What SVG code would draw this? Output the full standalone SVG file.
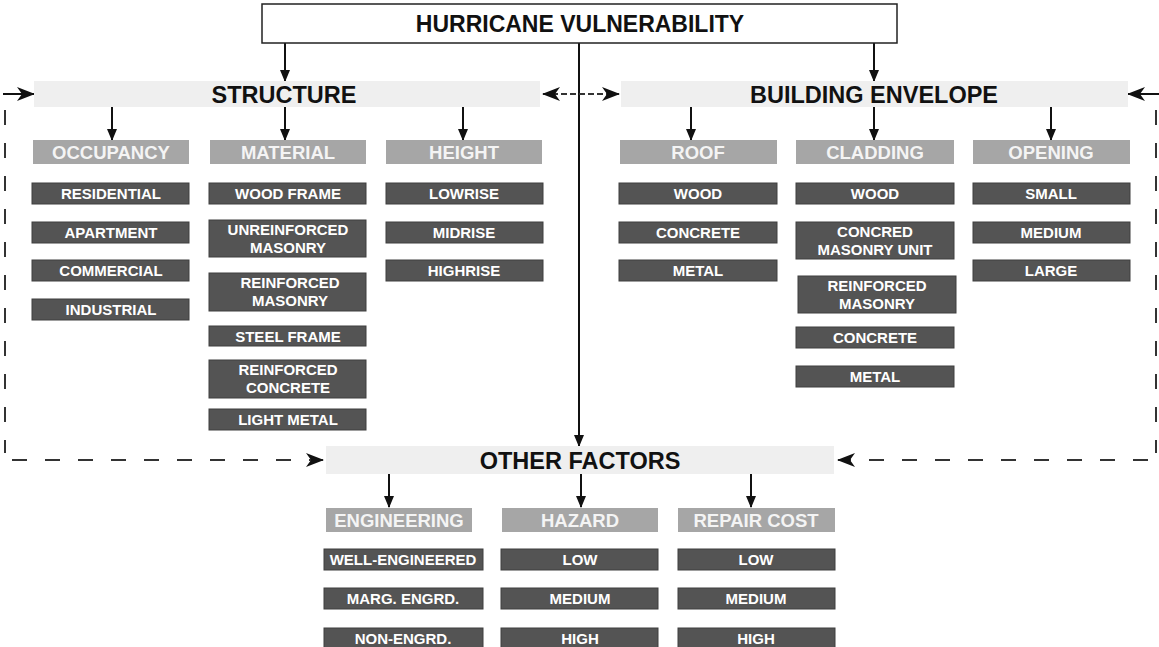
<svg xmlns="http://www.w3.org/2000/svg" width="1159" height="647" viewBox="0 0 1159 647">
<style>
text{font-family:"Liberation Sans",Arial,sans-serif;text-anchor:middle}
.title{font-size:23px;font-weight:bold;fill:#111}
.bar{fill:#efefef}
.bart{font-size:23.5px;font-weight:bold;fill:#111}
.hdr{fill:#a6a6a6}
.hdrt{font-size:18.5px;font-weight:bold;fill:#f4f4f4}
.item{fill:#545454;stroke:#3e3e3e;stroke-width:1}
.itemt{font-size:15px;font-weight:bold;fill:#fff}
.arr{stroke:#111;stroke-width:2;fill:none}
.dash{stroke:#333;stroke-width:2;fill:none;stroke-dasharray:15 18}
.dash2{stroke:#333;stroke-width:2;fill:none;stroke-dasharray:6 3}
</style>
<defs>
<marker id="ah" markerUnits="userSpaceOnUse" markerWidth="12" markerHeight="10" refX="11" refY="5" orient="auto" viewBox="0 0 12 10">
<path d="M0,0 L12,5 L0,10 Z" fill="#111"/>
</marker>
<marker id="st" markerUnits="userSpaceOnUse" markerWidth="18" markerHeight="14" refX="17" refY="7" orient="auto-start-reverse" viewBox="0 0 18 14">
<path d="M0,0 L18,7 L0,14 L5,7 Z" fill="#111"/>
</marker>
</defs>

<g id="connectors">
<line class="arr" x1="285" y1="43" x2="285" y2="81" marker-end="url(#ah)"/>
<line class="arr" x1="874" y1="43" x2="874" y2="81" marker-end="url(#ah)"/>
<line class="arr" x1="579" y1="43" x2="579" y2="446" marker-end="url(#ah)"/>
<line class="dash2" x1="543" y1="94" x2="619" y2="94" marker-start="url(#st)" marker-end="url(#st)"/>
<line class="arr" x1="112" y1="107" x2="112" y2="140" marker-end="url(#ah)"/>
<line class="arr" x1="285" y1="107" x2="285" y2="140" marker-end="url(#ah)"/>
<line class="arr" x1="463" y1="107" x2="463" y2="140" marker-end="url(#ah)"/>
<line class="arr" x1="691" y1="107" x2="691" y2="140" marker-end="url(#ah)"/>
<line class="arr" x1="874" y1="107" x2="874" y2="140" marker-end="url(#ah)"/>
<line class="arr" x1="1051" y1="107" x2="1051" y2="140" marker-end="url(#ah)"/>
<line class="arr" x1="389" y1="474" x2="389" y2="507" marker-end="url(#ah)"/>
<line class="arr" x1="581" y1="474" x2="581" y2="507" marker-end="url(#ah)"/>
<line class="arr" x1="751" y1="474" x2="751" y2="507" marker-end="url(#ah)"/>
<line class="arr" x1="3" y1="94" x2="34" y2="94" stroke-width="1.5" marker-end="url(#st)"/>
<line class="arr" x1="1159" y1="94" x2="1128" y2="94" stroke-width="1.5" marker-end="url(#st)"/>
<path class="dash" d="M5,110 V453"/>
<path class="dash" d="M12,460 H323" marker-end="url(#st)"/>
<path class="dash" d="M1156,110 V453"/>
<path class="dash" d="M1148,460 H838" marker-end="url(#st)"/>
</g>

<g id="n-title">
<rect x="262" y="4" width="635" height="39" fill="#fff" stroke="#222" stroke-width="1.5"/>
<text class="title" x="580" y="31.5">HURRICANE VULNERABILITY</text>
</g>

<g id="n-structure">
<rect class="bar" x="34" y="81" width="506" height="26"/>
<text class="bart" x="284" y="102.5">STRUCTURE</text>
</g>
<g id="n-envelope">
<rect class="bar" x="621" y="81" width="507" height="26"/>
<text class="bart" x="874" y="102.5">BUILDING ENVELOPE</text>
</g>
<g id="n-other">
<rect class="bar" x="326" y="446" width="508" height="28"/>
<text class="bart" x="580" y="468.5">OTHER FACTORS</text>
</g>

<g id="n-occupancy"><rect class="hdr" x="33" y="140" width="156" height="24"/><text class="hdrt" x="111" y="158.5">OCCUPANCY</text></g>
<g id="n-material"><rect class="hdr" x="210" y="140" width="156" height="24"/><text class="hdrt" x="288" y="158.5">MATERIAL</text></g>
<g id="n-height"><rect class="hdr" x="386" y="140" width="156" height="24"/><text class="hdrt" x="464" y="158.5">HEIGHT</text></g>
<g id="n-roof"><rect class="hdr" x="620" y="140" width="157" height="24"/><text class="hdrt" x="698" y="158.5">ROOF</text></g>
<g id="n-cladding"><rect class="hdr" x="796" y="140" width="158" height="24"/><text class="hdrt" x="875" y="158.5">CLADDING</text></g>
<g id="n-opening"><rect class="hdr" x="973" y="140" width="157" height="24"/><text class="hdrt" x="1051" y="158.5">OPENING</text></g>
<g id="n-engineering"><rect class="hdr" x="326" y="508" width="146" height="24"/><text class="hdrt" x="399" y="526.5">ENGINEERING</text></g>
<g id="n-hazard"><rect class="hdr" x="502" y="508" width="156" height="24"/><text class="hdrt" x="580" y="526.5">HAZARD</text></g>
<g id="n-repaircost"><rect class="hdr" x="678" y="508" width="157" height="24"/><text class="hdrt" x="756" y="526.5">REPAIR COST</text></g>

<g id="n-residential"><rect class="item" x="32" y="183" width="157" height="21"/><text class="itemt" x="111" y="199">RESIDENTIAL</text></g>
<g id="n-apartment"><rect class="item" x="32" y="222" width="157" height="21"/><text class="itemt" x="111" y="238">APARTMENT</text></g>
<g id="n-commercial"><rect class="item" x="32" y="260" width="157" height="21"/><text class="itemt" x="111" y="276">COMMERCIAL</text></g>
<g id="n-industrial"><rect class="item" x="32" y="299" width="157" height="21"/><text class="itemt" x="111" y="315">INDUSTRIAL</text></g>

<g id="n-woodframe"><rect class="item" x="209" y="183" width="157" height="21"/><text class="itemt" x="288" y="199">WOOD FRAME</text></g>
<g id="n-urm"><rect class="item" x="209" y="220" width="157" height="37"/><text class="itemt" x="288" y="235">UNREINFORCED</text><text class="itemt" x="288" y="253">MASONRY</text></g>
<g id="n-rm"><rect class="item" x="209" y="273" width="157" height="38"/><text class="itemt" x="290" y="288">REINFORCED</text><text class="itemt" x="290" y="306">MASONRY</text></g>
<g id="n-steel"><rect class="item" x="209" y="326" width="157" height="20"/><text class="itemt" x="288" y="341.5">STEEL FRAME</text></g>
<g id="n-rc"><rect class="item" x="209" y="360" width="157" height="38"/><text class="itemt" x="288" y="375">REINFORCED</text><text class="itemt" x="288" y="393">CONCRETE</text></g>
<g id="n-lightmetal"><rect class="item" x="209" y="409" width="157" height="21"/><text class="itemt" x="288" y="425">LIGHT METAL</text></g>

<g id="n-lowrise"><rect class="item" x="386" y="183" width="157" height="21"/><text class="itemt" x="464" y="199">LOWRISE</text></g>
<g id="n-midrise"><rect class="item" x="386" y="222" width="157" height="21"/><text class="itemt" x="464" y="238">MIDRISE</text></g>
<g id="n-highrise"><rect class="item" x="386" y="260" width="157" height="21"/><text class="itemt" x="464" y="276">HIGHRISE</text></g>

<g id="n-roof-wood"><rect class="item" x="619" y="183" width="158" height="21"/><text class="itemt" x="698" y="199">WOOD</text></g>
<g id="n-roof-concrete"><rect class="item" x="619" y="222" width="158" height="21"/><text class="itemt" x="698" y="238">CONCRETE</text></g>
<g id="n-roof-metal"><rect class="item" x="619" y="260" width="158" height="21"/><text class="itemt" x="698" y="276">METAL</text></g>

<g id="n-clad-wood"><rect class="item" x="796" y="183" width="158" height="21"/><text class="itemt" x="875" y="199">WOOD</text></g>
<g id="n-clad-cmu"><rect class="item" x="796" y="222" width="158" height="37"/><text class="itemt" x="875" y="237">CONCRED</text><text class="itemt" x="875" y="255">MASONRY UNIT</text></g>
<g id="n-clad-rm"><rect class="item" x="798" y="276" width="158" height="37"/><text class="itemt" x="877" y="291">REINFORCED</text><text class="itemt" x="877" y="309">MASONRY</text></g>
<g id="n-clad-concrete"><rect class="item" x="796" y="327" width="158" height="21"/><text class="itemt" x="875" y="343">CONCRETE</text></g>
<g id="n-clad-metal"><rect class="item" x="796" y="366" width="158" height="21"/><text class="itemt" x="875" y="382">METAL</text></g>

<g id="n-small"><rect class="item" x="973" y="183" width="157" height="21"/><text class="itemt" x="1051" y="199">SMALL</text></g>
<g id="n-medium"><rect class="item" x="973" y="222" width="157" height="21"/><text class="itemt" x="1051" y="238">MEDIUM</text></g>
<g id="n-large"><rect class="item" x="973" y="260" width="157" height="21"/><text class="itemt" x="1051" y="276">LARGE</text></g>

<g id="n-well"><rect class="item" x="324" y="549" width="159" height="21"/><text class="itemt" x="403" y="565">WELL-ENGINEERED</text></g>
<g id="n-marg"><rect class="item" x="324" y="588" width="159" height="21"/><text class="itemt" x="403" y="604">MARG. ENGRD.</text></g>
<g id="n-non"><rect class="item" x="324" y="628" width="159" height="20"/><text class="itemt" x="403" y="643.5">NON-ENGRD.</text></g>

<g id="n-haz-low"><rect class="item" x="501" y="549" width="157" height="21"/><text class="itemt" x="580" y="565">LOW</text></g>
<g id="n-haz-med"><rect class="item" x="501" y="588" width="157" height="21"/><text class="itemt" x="580" y="604">MEDIUM</text></g>
<g id="n-haz-high"><rect class="item" x="501" y="628" width="157" height="20"/><text class="itemt" x="580" y="643.5">HIGH</text></g>

<g id="n-rep-low"><rect class="item" x="678" y="549" width="157" height="21"/><text class="itemt" x="756" y="565">LOW</text></g>
<g id="n-rep-med"><rect class="item" x="678" y="588" width="157" height="21"/><text class="itemt" x="756" y="604">MEDIUM</text></g>
<g id="n-rep-high"><rect class="item" x="678" y="628" width="157" height="20"/><text class="itemt" x="756" y="643.5">HIGH</text></g>
</svg>
